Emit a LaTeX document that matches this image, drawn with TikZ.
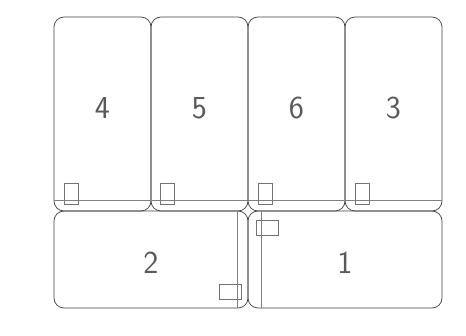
\documentclass[tikz,border=0pt]{standalone}
\usetikzlibrary{positioning}
\tikzset{
  card/.style = {draw=black!75, line width=0.7pt, rectangle, rounded corners=10pt, inner sep=0pt, outer sep=0pt, minimum width=97pt, minimum height=194pt, text depth=12pt, font=\sffamily\fontsize{32}{32}\selectfont, text=black!65},
  wide/.style = {card, minimum width=194pt, minimum height=97pt, text depth=0pt, text height=28.5pt},
  tag/.style = {draw=black!55, line width=0.5pt, rectangle, inner sep=0pt, outer sep=0pt, minimum width=14pt, minimum height=21pt},
  wtag/.style = {tag, minimum width=22pt, minimum height=15pt},
  seam/.style = {draw=black!50, line width=0.5pt}
}
\begin{document}
\begin{tikzpicture}[x=1pt,y=-1pt]
  \useasboundingbox (0,0) rectangle (466,336);
  % top row
  \node[card] (c4) at (102.5,114) {4};
  \node[card, right=0pt of c4] (c5) {5};
  \node[card, right=0pt of c5] (c6) {6};
  \node[card, right=0pt of c6] (c3) {3};
  % bottom row
  \node[wide, anchor=north west] (c2) at (c4.south west) {2};
  \node[wide, right=0pt of c2] (c1) {1};
  % small marks
  \node[tag, anchor=south west] (t4) at ([xshift=10pt,yshift=7pt]c4.south west) {};
  \node[tag, anchor=south west] (t5) at ([xshift=9pt,yshift=7pt]c5.south west) {};
  \node[tag, anchor=south west] (t6) at ([xshift=10pt,yshift=7pt]c6.south west) {};
  \node[tag, anchor=south west] (t3) at ([xshift=10pt,yshift=7pt]c3.south west) {};
  \node[wtag, anchor=south east] (t2) at ([xshift=-7pt,yshift=9pt]c2.south east) {};
  \node[wtag, anchor=north west] (t1) at ([xshift=8pt,yshift=-9pt]c1.north west) {};
  % seams
  \draw[seam] ([yshift=11pt]c4.south west) -- ([yshift=11pt]c3.south east);
  \draw[seam] ([xshift=-11pt]c2.north east) -- ([xshift=-11pt]c2.south east);
  \draw[seam] ([xshift=13pt]c1.north west) -- ([xshift=13pt]c1.south west);
\end{tikzpicture}
\end{document}
